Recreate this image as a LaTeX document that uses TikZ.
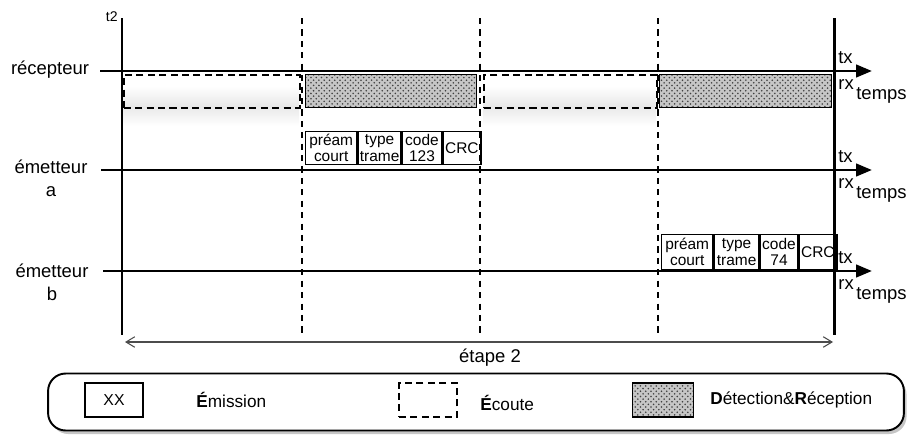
\documentclass[tikz,border=0pt]{standalone}
\usepackage{fontspec}
\setmainfont{Liberation Sans}
\usetikzlibrary{arrows.meta,patterns,shadows,positioning}

\begin{document}
\begin{tikzpicture}[x=0.02cm,y=-0.02cm,font=\fontsize{10.5}{13}\selectfont,
  axe/.style={line width=1.7pt},
  fleche/.style={line width=1.7pt,-{Triangle[length=9pt,width=7pt]}},
  borne/.style={line width=0.7pt,dash pattern=on 3.5pt off 3pt},
  ecoute/.style={draw,line width=0.9pt,dash pattern=on 4pt off 2.5pt},
  recept/.style={draw,line width=0.8pt,preaction={fill=gray!45},pattern=crosshatch dots,pattern color=black!75},
  cellule/.style={draw,line width=0.8pt,inner sep=0pt,align=center,font=\fontsize{8.8}{9.3}\selectfont},
  lbl/.style={inner sep=0pt}]
  \useasboundingbox (0,0) rectangle (911,436);

  % ombres sous les fenetres d'ecoute
  \shade[top color=white,bottom color=white,middle color=black!9] (123,86) rectangle (299,126);
  \shade[top color=white,bottom color=white,middle color=black!9] (483,86) rectangle (656,126);

  % bornes de l'etape
  \foreach \x in {302,480,658}
    \draw[borne] (\x,18) -- (\x,335);

  % fenetres du recepteur
  \node[ecoute,minimum width=3.52cm,minimum height=0.66cm,anchor=north west] (e1) at (123,74) {};
  \node[recept,minimum width=3.42cm,minimum height=0.66cm,anchor=north west] (d1) at (305,74) {};
  \node[ecoute,minimum width=3.46cm,minimum height=0.66cm,anchor=north west] (e2) at (483,74) {};
  \node[recept,minimum width=3.44cm,minimum height=0.66cm,anchor=north west] (d2) at (659,74) {};

  % trame de l'emetteur a
  \node[cellule,minimum width=1.02cm,minimum height=0.66cm,anchor=north west] (pa) at (305,131) {préam\\court};
  \node[cellule,minimum width=0.86cm,minimum height=0.66cm,right=0pt of pa] (ta) {type\\trame};
  \node[cellule,minimum width=0.78cm,minimum height=0.66cm,right=0pt of ta] (ca) {code\\123};
  \node[cellule,minimum width=0.76cm,minimum height=0.66cm,right=0pt of ca] (ka) {CRC};

  % trame de l'emetteur b
  \node[cellule,minimum width=1.02cm,minimum height=0.7cm,anchor=north west] (pb) at (661,234) {préam\\court};
  \node[cellule,minimum width=0.9cm,minimum height=0.7cm,right=0pt of pb] (tb) {type\\trame};
  \node[cellule,minimum width=0.74cm,minimum height=0.7cm,right=0pt of tb] (cb) {code\\74};
  \node[cellule,minimum width=0.76cm,minimum height=0.7cm,right=0pt of cb] (kb) {CRC};

  % axes des temps
  \coordinate (rg) at (100,71);  \coordinate (rd) at (872,71);
  \coordinate (ag) at (101,170); \coordinate (ad) at (872,170);
  \coordinate (bg) at (103,271); \coordinate (bd) at (872,271);
  \draw[fleche] (rg) -- (rd);
  \draw[fleche] (ag) -- (ad);
  \draw[fleche] (bg) -- (bd);

  \coordinate (g1) at (122,18); \coordinate (g2) at (122,335);
  \coordinate (d1h) at (834,18); \coordinate (d2b) at (834,335);
  \draw[axe] (g1) -- (g2);
  \draw[axe] (d1h) -- (d2b);
  \node[lbl,anchor=east,font=\fontsize{8}{9}\selectfont] (t2) at (118,17) {t2};

  % noms des noeuds
  \node[lbl] (rec) at (50,70) {récepteur};
  \node[lbl,align=center] (ema) at (51,178) {émetteur\\a};
  \node[lbl,align=center] (emb) at (52,282) {émetteur\\b};

  \foreach \y/\n in {71/r,170/a,271/b}{
    \node[lbl,anchor=west] (tx\n) at (838,\y-13) {tx};
    \node[lbl,anchor=west] (rx\n) at (838,\y+14) {rx};
    \node[lbl,anchor=west] (tp\n) at (856,\y+24) {temps};
  }

  % duree de l'etape
  \coordinate (eg) at (125,342); \coordinate (ed) at (833,342);
  \draw[line width=0.6pt,black!70,{Straight Barb[length=5pt,width=6pt]}-{Straight Barb[length=5pt,width=6pt]}] (eg) -- (ed);
  \node[lbl] (etape) at (490,358) {étape 2};

  % legende
  \node[draw,line width=1.1pt,fill=white,rounded corners=10pt,minimum width=17.12cm,minimum height=1.14cm,
        drop shadow={shadow xshift=1.5pt,shadow yshift=-2pt,opacity=0.45}] (leg) at (476,402) {};
  \node[draw,line width=0.8pt,minimum width=1.16cm,minimum height=0.68cm,font=\fontsize{9}{10}\selectfont] (lxx) at (114,400) {XX};
  \node[lbl,anchor=west,font=\fontsize{9.8}{12}\selectfont] (lem) at (196,400) {\textbf{É}mission};
  \node[ecoute,minimum width=1.16cm,minimum height=0.68cm] (lec) at (428,400) {};
  \node[lbl,anchor=west,font=\fontsize{9.8}{12}\selectfont] (lect) at (480,403) {\textbf{É}coute};
  \node[recept,minimum width=1.22cm,minimum height=0.68cm] (ldr) at (663,400) {};
  \node[lbl,anchor=west,font=\fontsize{9.8}{12}\selectfont] (ldrt) at (710,400) {\textbf{D}étection\&\textbf{R}éception};
\end{tikzpicture}
\end{document}
